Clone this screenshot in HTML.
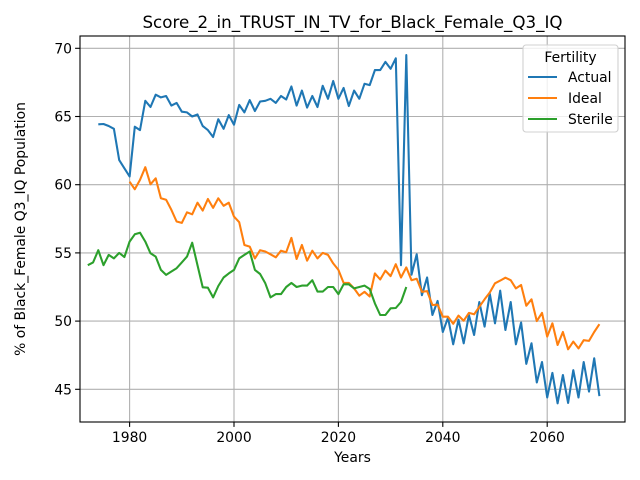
<!DOCTYPE html>
<html><head><meta charset="utf-8"><style>
body{margin:0;background:#fff;}
svg{display:block;font-family:"DejaVu Sans","Liberation Sans",sans-serif;}
</style></head><body>
<svg id="chart" width="640" height="480" viewBox="0 0 640 480">
<rect width="640" height="480" fill="#fff"/>
<g id="grid"></g>
<g id="series"></g>
<g id="axes"></g>
</svg>
<script>
const actualYears=[1974,2070];
const actualValues=[64.43,64.45,64.3,64.1,61.8,61.2,60.6,64.25,64.0,66.15,65.7,66.6,66.4,66.5,65.8,66.0,65.35,65.3,65.0,65.15,64.3,64.0,63.5,64.8,64.1,65.1,64.4,65.85,65.3,66.2,65.4,66.1,66.15,66.3,66.0,66.5,66.25,67.2,65.8,66.9,65.65,66.5,65.7,67.25,66.3,67.6,66.3,67.1,65.77,66.9,66.3,67.4,67.3,68.4,68.4,69.0,68.5,69.27,54.1,69.5,53.4,54.9,51.9,53.2,50.45,51.47,49.2,50.25,48.3,50.1,48.37,50.45,48.98,51.4,49.6,52.0,49.84,52.23,49.35,51.4,48.3,49.9,46.86,48.37,45.5,47.0,44.4,46.2,43.97,46.05,44.0,46.4,44.4,47.0,44.83,47.27,44.5];
const idealYears=[1980,2070];
const idealValues=[60.22,59.66,60.35,61.28,60.03,60.47,59.0,58.9,58.15,57.3,57.2,57.98,57.83,58.68,58.1,58.95,58.3,59.0,58.45,58.68,57.66,57.25,55.58,55.46,54.6,55.2,55.1,54.9,54.68,55.16,55.05,56.1,54.55,55.58,54.43,55.16,54.6,55.0,54.85,54.23,53.75,52.8,52.8,52.4,51.86,52.15,51.8,53.5,53.05,53.7,53.3,54.17,53.2,53.94,53.0,53.1,52.15,52.2,51.18,51.2,50.32,50.32,49.8,50.4,50.03,50.6,50.5,51.05,51.6,52.1,52.77,52.97,53.18,53.0,52.4,52.65,51.13,51.6,50.0,50.6,48.86,49.84,48.25,49.2,47.93,48.5,48.0,48.6,48.55,49.2,49.77];
const sterileYears=[1972,2033];
const sterileValues=[54.1,54.3,55.2,54.1,54.85,54.6,55.0,54.7,55.83,56.36,56.48,55.83,54.97,54.73,53.75,53.39,53.64,53.88,54.3,54.73,55.75,54.1,52.48,52.45,51.74,52.57,53.2,53.5,53.75,54.6,54.85,55.1,53.75,53.45,52.77,51.74,51.98,51.98,52.5,52.8,52.5,52.6,52.6,53.0,52.16,52.16,52.5,52.5,51.98,52.7,52.7,52.4,52.5,52.6,52.35,51.3,50.45,50.45,50.94,50.96,51.4,52.5];
const xTicks=[1980,2000,2020,2040,2060];
const yTicks=[45,50,55,60,65,70];
const seriesNames=["Actual","Ideal","Sterile"];
const colors=["#1f77b4","#ff7f0e","#2ca02c"];

const L=80,R=625,T=36,B=422;
const X=y=>129.6+(y-1980)*5.22;
const Y=v=>48.3+(70-v)*13.64;
const NS="http://www.w3.org/2000/svg";
function mk(tag,attrs,parent,text){const e=document.createElementNS(NS,tag);for(const k in attrs)e.setAttribute(k,attrs[k]);if(text!==undefined)e.textContent=text;parent.appendChild(e);return e;}
const grid=document.getElementById('grid'),ser=document.getElementById('series'),ax=document.getElementById('axes');
xTicks.forEach(t=>{
 const g=mk('line',{x1:X(t),x2:X(t),y1:T,y2:B,stroke:'#b0b0b0','stroke-width':1.1},grid);
 
 
 mk('line',{x1:X(t),x2:X(t),y1:B,y2:B+4.9,stroke:'#000','stroke-width':1.1},ax);
 const tx=mk('text',{x:X(t),y:B+20,'text-anchor':'middle','font-size':13.9,fill:'#000'},ax,String(t));
 
 
});
yTicks.forEach(t=>{
 const g=mk('line',{x1:L,x2:R,y1:Y(t),y2:Y(t),stroke:'#b0b0b0','stroke-width':1.1},grid);
 
 
 mk('line',{x1:L-4.9,x2:L,y1:Y(t),y2:Y(t),stroke:'#000','stroke-width':1.1},ax);
 const tx=mk('text',{x:L-8,y:Y(t)+5,'text-anchor':'end','font-size':13.9,fill:'#000'},ax,String(t));
 
 
});
const all=[[actualYears,actualValues],[idealYears,idealValues],[sterileYears,sterileValues]];
all.forEach((s,i)=>{
 const pts=s[1].map((v,j)=>X(s[0][0]+j).toFixed(1)+','+Y(v).toFixed(1)).join(' ');
 const p=mk('polyline',{points:pts,fill:'none',stroke:colors[i],'stroke-width':2.08,'stroke-linejoin':'round'},ser);
 
 
});
const frame=mk('rect',{x:L,y:T,width:R-L,height:B-T,fill:'none',stroke:'#000','stroke-width':1.1},ax);


const title=mk('text',{x:(L+R)/2,y:T-8,'text-anchor':'middle','font-size':16.7,fill:'#000'},ax,'Score_2_in_TRUST_IN_TV_for_Black_Female_Q3_IQ');


const xl=mk('text',{x:(L+R)/2,y:462,'text-anchor':'middle','font-size':13.9,fill:'#000'},ax,'Years');


const yl=mk('text',{x:0,y:0,'text-anchor':'middle','font-size':13.9,fill:'#000',transform:'translate(25,'+((T+B)/2)+') rotate(-90)'},ax,'% of Black_Female Q3_IQ Population');


const lg=mk('g',{},ax);


mk('rect',{x:523,y:45,width:95,height:87,rx:3,fill:'#fff','fill-opacity':0.8,stroke:'#d0d0d0','stroke-width':1.1},lg);
mk('text',{x:570.5,y:62,'text-anchor':'middle','font-size':13.9,fill:'#000'},lg,'Fertility');
seriesNames.forEach((n,i)=>{
 const yy=77+i*21;
 const e=mk('g',{},lg);
 
 
 mk('line',{x1:528,x2:557,y1:yy,y2:yy,stroke:colors[i],'stroke-width':2.08},e);
 mk('text',{x:568,y:yy+5,'font-size':13.9,fill:'#000'},e,n);
});
</script>
</body></html>
